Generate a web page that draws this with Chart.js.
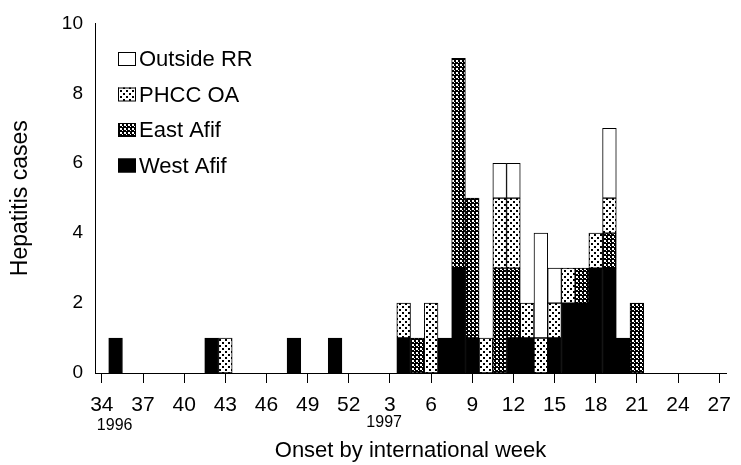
<!DOCTYPE html>
<html>
<head>
<meta charset="utf-8">
<script src="https://cdn.jsdelivr.net/npm/chart.js@4"></script>
<style>
  html, body { margin: 0; padding: 0; background: #fff; }
  #casesChart { display: block; }
</style>
</head>
<body>
<canvas id="casesChart" width="741" height="465"></canvas>
<script>
// international weeks, 34-52 of 1996 then 1-27 of 1997
const weeks = [
  '34', '35', '36', '37', '38', '39', '40', '41', '42', '43', '44', '45', '46', '47', '48', '49', '50', '51', '52',
  '1', '2', '3', '4', '5', '6', '7', '8', '9', '10', '11', '12', '13', '14', '15', '16', '17', '18', '19', '20',
  '21', '22', '23', '24', '25', '26', '27'
];
const yearMarks = [['34', '1996'], ['3', '1997']];

const westAfif = [
  0, 1, 0, 0, 0, 0, 0, 0, 1, 0, 0, 0, 0, 0, 1, 0, 0, 1, 0,
  0, 0, 0, 1, 0, 0, 1, 3, 1, 0, 0, 1, 1, 0, 1, 2, 2, 3, 3, 1, 0, 0, 0, 0, 0, 0, 0
];
const eastAfif = [
  0, 0, 0, 0, 0, 0, 0, 0, 0, 0, 0, 0, 0, 0, 0, 0, 0, 0, 0,
  0, 0, 0, 0, 1, 0, 0, 6, 4, 0, 3, 2, 0, 0, 0, 0, 1, 0, 1, 0, 2, 0, 0, 0, 0, 0, 0
];
const phccOA = [
  0, 0, 0, 0, 0, 0, 0, 0, 0, 1, 0, 0, 0, 0, 0, 0, 0, 0, 0,
  0, 0, 0, 1, 0, 2, 0, 0, 0, 1, 2, 2, 1, 1, 1, 1, 0, 1, 1, 0, 0, 0, 0, 0, 0, 0, 0
];
const outsideRR = [
  0, 0, 0, 0, 0, 0, 0, 0, 0, 0, 0, 0, 0, 0, 0, 0, 0, 0, 0,
  0, 0, 0, 0, 0, 0, 0, 0, 0, 0, 1, 1, 0, 3, 1, 0, 0, 0, 2, 0, 0, 0, 0, 0, 0, 0, 0
];

const FONT = "'Liberation Sans', Arial, sans-serif";

function makePattern(bg, fg, size, dots) {
  const c = document.createElement('canvas');
  c.width = size;
  c.height = size;
  const g = c.getContext('2d');
  g.fillStyle = bg;
  g.fillRect(0, 0, size, size);
  g.fillStyle = fg;
  dots.forEach(d => g.fillRect(d[0], d[1], d[2], d[2]));
  return g.createPattern(c, 'repeat');
}

const ctx = document.getElementById('casesChart').getContext('2d');
const lightDots = makePattern('#fff', '#000', 6, [[0, 0, 2], [3, 3, 2]]);
const darkDots = makePattern('#000', '#fff', 4, [[0, 0, 2], [2, 2, 1]]);

// legend drawn inside the plot, top-left, in reverse stack order
const insideLegend = {
  id: 'insideLegend',
  afterDraw(chart) {
    const c = chart.ctx;
    const sets = chart.data.datasets.slice().reverse();
    c.save();
    c.font = '22px ' + FONT;
    c.textBaseline = 'middle';
    c.textAlign = 'left';
    sets.forEach((ds, i) => {
      const y = 59 + i * 35.5;
      c.fillStyle = ds.backgroundColor;
      c.fillRect(118, y - 7, 18, 14);
      c.strokeStyle = '#000';
      c.lineWidth = 1;
      c.strokeRect(118.5, y - 6.5, 17, 13);
      c.fillStyle = '#000';
      c.fillText(ds.label, 139, y + 1);
    });
    c.restore();
  }
};

// small year labels under the first week of each year
const yearLabels = {
  id: 'yearLabels',
  afterDraw(chart) {
    const c = chart.ctx;
    const x = chart.scales.x;
    c.save();
    c.font = '16px ' + FONT;
    c.fillStyle = '#000';
    c.textBaseline = 'middle';
    yearMarks.forEach((m, i) => {
      const px = x.getPixelForValue(weeks.indexOf(m[0]));
      if (i === 0) {
        c.textAlign = 'left';
        c.fillText(m[1], px - 5, 426);
      } else {
        c.textAlign = 'right';
        c.fillText(m[1], px + 12, 423);
      }
    });
    c.restore();
  }
};

function barSet(label, data, fill) {
  return {
    label: label,
    data: data,
    backgroundColor: fill,
    borderColor: '#000',
    borderWidth: 1,
    borderSkipped: false,
    barPercentage: 1,
    categoryPercentage: 1
  };
}

const casesChart = new Chart(ctx, {
  type: 'bar',
  data: {
    labels: weeks,
    datasets: [
      barSet('West Afif', westAfif, '#000'),
      barSet('East Afif', eastAfif, darkDots),
      barSet('PHCC OA', phccOA, lightDots),
      barSet('Outside RR', outsideRR, '#fff')
    ]
  },
  options: {
    responsive: false,
    animation: false,
    layout: { padding: { top: 22, right: 13, left: 0, bottom: 0 } },
    plugins: {
      legend: { display: false },
      tooltip: { enabled: false }
    },
    scales: {
      x: {
        stacked: true,
        offset: true,
        grid: {
          offset: false,
          drawOnChartArea: false,
          drawTicks: true,
          tickLength: 10,
          color: (c) => (c.index % 3 === 0 ? '#000' : 'rgba(0,0,0,0)')
        },
        border: { display: true, color: '#000', width: 1 },
        ticks: {
          autoSkip: false,
          maxRotation: 0,
          padding: 10,
          color: '#000',
          font: { family: FONT, size: 21 },
          callback: (v, i) => (i % 3 === 0 ? weeks[i] : '')
        },
        title: {
          display: true,
          text: 'Onset by international week',
          color: '#000',
          font: { family: FONT, size: 22 },
          padding: { top: 0, bottom: 1 }
        },
        afterFit: (scale) => { scale.height = 92; }
      },
      y: {
        stacked: true,
        min: 0,
        max: 10,
        grid: { display: false, drawTicks: false },
        border: { display: true, color: '#000', width: 1 },
        ticks: {
          stepSize: 2,
          padding: 12,
          color: '#000',
          font: { family: FONT, size: 19 }
        },
        title: {
          display: true,
          text: 'Hepatitis cases',
          color: '#000',
          font: { family: FONT, size: 23 },
          padding: { top: 7, bottom: 0 }
        },
        afterFit: (scale) => { scale.width = 95; }
      }
    }
  },
  plugins: [insideLegend, yearLabels]
});
</script>
</body>
</html>
